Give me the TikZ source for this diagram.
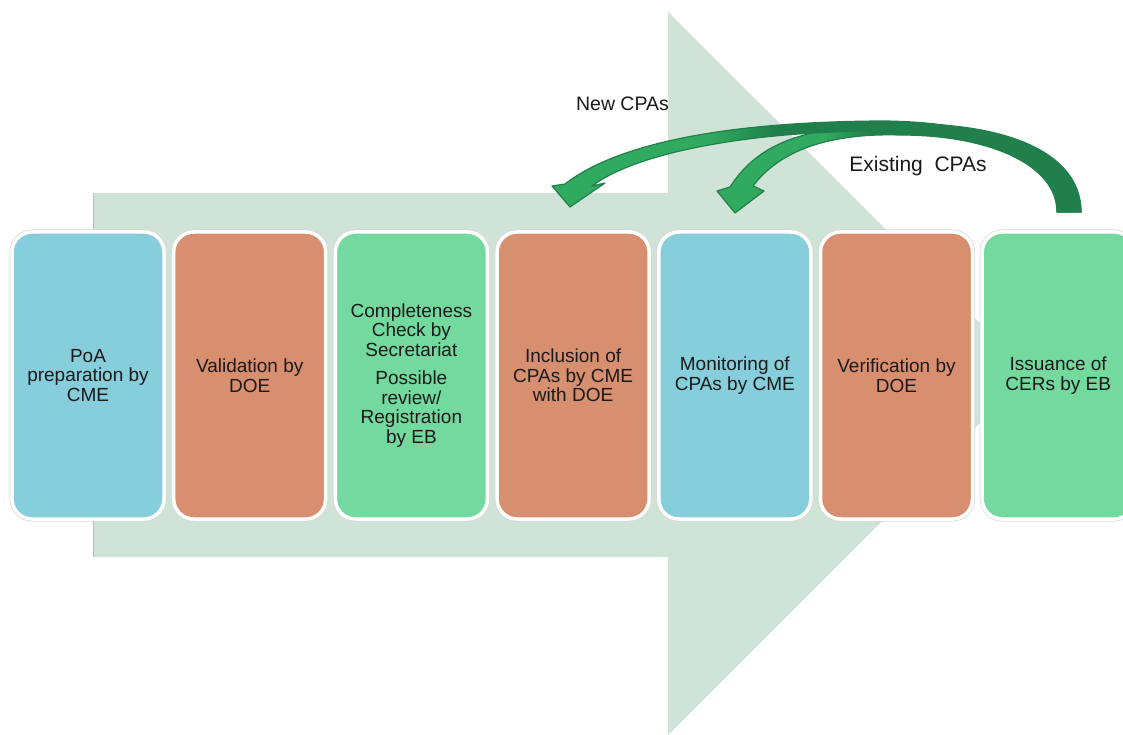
\documentclass[tikz,border=0pt]{standalone}
\usepackage{fontspec}
\setmainfont{Liberation Sans}
\definecolor{bgarrow}{HTML}{CFE3D6}
\definecolor{bblue}{HTML}{86CEDB}
\definecolor{borange}{HTML}{D78F70}
\definecolor{bgreen}{HTML}{74D99F}
\definecolor{agreen}{HTML}{2FAA5E}
\definecolor{dgreen}{HTML}{217F4B}
\definecolor{txt}{HTML}{1A1A1A}
\pgfdeclarehorizontalshading{shA}{100bp}{color(0bp)=(agreen); color(40bp)=(agreen); color(46bp)=(dgreen); color(100bp)=(dgreen)}
\pgfdeclarehorizontalshading{shB}{100bp}{color(0bp)=(agreen); color(40bp)=(agreen); color(46bp)=(dgreen); color(100bp)=(dgreen)}
\begin{document}
\begin{tikzpicture}[x=1pt,y=-1pt,
  stepbox/.style={rectangle, rounded corners=20pt, minimum width=152pt, minimum height=287pt,
    draw=white, line width=3.5pt, preaction={draw=black!15, line width=5pt},
    align=center, text=txt, font=\fontsize{19}{19.5}\selectfont, inner sep=0pt},
  lbl/.style={text=txt, inner sep=0pt},
  cparrow/.style={draw=dgreen, line width=1.2pt, line join=round}]
\clip (0,0) rectangle (1123,735);
\fill[white] (0,0) rectangle (1123,735);
% big background arrow
\fill[bgarrow] (93,193) -- (668,193) -- (668,12) -- (1030,373) -- (668,735) -- (668,557) -- (93,557) -- cycle;
\draw[black!25, line width=0.8pt] (93,193) -- (93,557);
% process boxes
\node[stepbox, fill=bblue]   (b1) at (88,375.5)   {PoA\\preparation by\\CME};
\node[stepbox, fill=borange] (b2) at (249.7,375.5) {Validation by\\DOE};
\node[stepbox, fill=bgreen]  (b3) at (411.4,375.5) {Completeness\\Check by\\Secretariat\\[9pt]Possible\\review/\\Registration\\by EB};
\node[stepbox, fill=borange] (b4) at (573.1,375.5) {Inclusion of\\CPAs by CME\\with DOE};
\node[stepbox, fill=bblue]   (b5) at (734.8,375.5) {Monitoring of\\CPAs by CME};
\node[stepbox, fill=borange] (b6) at (896.5,375.5) {Verification by\\DOE};
\node[stepbox, fill=bgreen]  (b7) at (1058.2,375.5) {Issuance of\\CERs by EB};
% curved arrows
\coordinate (tailo) at (1081,212);
\coordinate (taili) at (1057,212);
\path[cparrow, shading=shB] (tailo) -- (taili)
  .. controls (1057,165) and (990,135) .. (900,135)
  .. controls (830,133) and (780,150) .. (753,186)
  -- (764,191) -- (735,213) -- (717,191) -- (730,187)
  .. controls (760,140) and (810,126) .. (900,124)
  .. controls (1000,122) and (1081,150) .. (tailo) -- cycle;
\path[cparrow, shading=shA] (tailo) -- (taili)
  .. controls (1057,160) and (990,131) .. (880,131)
  .. controls (760,131) and (640,150) .. (592,186)
  -- (605,183) -- (570,207) -- (552,186) -- (565,184)
  .. controls (615,145) and (720,122) .. (880,121)
  .. controls (980,121) and (1081,150) .. (tailo) -- cycle;
% labels
\node[lbl, font=\fontsize{19.5}{22}\selectfont] (newl) at (622.5,104) {New CPAs};
\node[lbl, font=\fontsize{21}{24}\selectfont] (exl) at (918,166) {Existing\ \ CPAs};
\end{tikzpicture}
\end{document}
